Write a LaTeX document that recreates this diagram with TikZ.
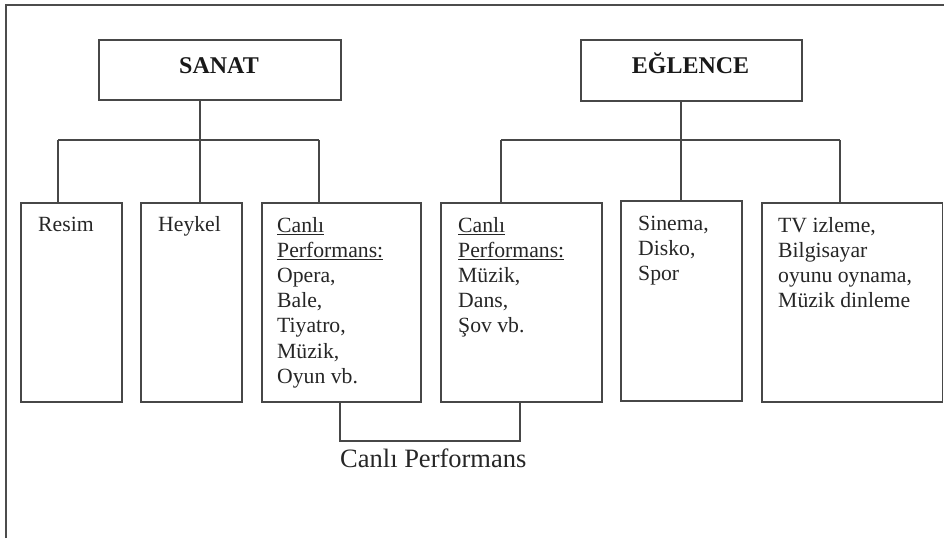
\documentclass[tikz,border=0pt]{standalone}
\usepackage{fontspec}
\setmainfont{Liberation Serif}
\newcommand\undl[1]{\leavevmode\setbox0\hbox{#1}\rlap{\rule[-2.6pt]{\wd0}{1pt}}\box0}
\begin{document}
\begin{tikzpicture}[x=1pt,y=-1pt,
  box/.style={draw=black!72,line width=1.6pt,rectangle,inner sep=0pt,anchor=north west},
  conn/.style={draw=black!72,line width=1.4pt},
  frame/.style={draw=black!70,line width=1.5pt},
  txt/.style={inner sep=0pt,anchor=base west,text=black!85,font=\fontsize{21.7}{25.2}\selectfont},
  ttl/.style={inner sep=0pt,anchor=base,text=black!90,font=\fontsize{24}{28}\selectfont\bfseries},
  lbl/.style={inner sep=0pt,anchor=base west,text=black!85,font=\fontsize{26.5}{30}\selectfont}]
\useasboundingbox (0,0) rectangle (944,538);
\draw[frame] (6,538) -- (6,5) -- (944,5);

% top boxes
\node[box,minimum width=242pt,minimum height=60pt] (sanat) at (98,39) {};
\node[ttl] (sanatT) at (219,73) {SANAT};
\node[box,minimum width=221pt,minimum height=61pt] (eglence) at (580,39) {};
\node[ttl] (eglenceT) at (690.5,73) {EĞLENCE};

% lower boxes
\node[box,minimum width=101pt,minimum height=199pt] (resim) at (20,202) {};
\node[box,minimum width=101pt,minimum height=199pt] (heykel) at (140,202) {};
\node[box,minimum width=159pt,minimum height=199pt] (canli1) at (261,202) {};
\node[box,minimum width=161pt,minimum height=199pt] (canli2) at (440,202) {};
\node[box,minimum width=121pt,minimum height=200pt] (sinema) at (620,200) {};
\node[box,minimum width=180.5pt,minimum height=199pt] (tv) at (761,202) {};

% texts
\node[txt] (resimT) at (38,231) {Resim};
\node[txt] (heykelT) at (158,231) {Heykel};
\node[txt] (canli1T) at (277,232) {\parbox[t]{140pt}{\raggedright
  \undl{Canlı}\\\undl{Performans:}\\Opera,\\Bale,\\Tiyatro,\\Müzik,\\Oyun vb.}};
\node[txt] (canli2T) at (458,232) {\parbox[t]{140pt}{\raggedright
  \undl{Canlı}\\\undl{Performans:}\\Müzik,\\Dans,\\Şov vb.}};
\node[txt] (sinemaT) at (638,230) {\parbox[t]{100pt}{\raggedright
  Sinema,\\Disko,\\Spor}};
\node[txt] (tvT) at (778,232) {\parbox[t]{160pt}{\raggedright
  TV izleme,\\Bilgisayar\\oyunu oynama,\\Müzik dinleme}};

% SANAT connectors
\coordinate (sj) at (200,140);
\coordinate (sl) at (58,140);
\coordinate (sr) at (319,140);
\draw[conn] (sanat.south -| sj) -- (sj);
\draw[conn] (sl) -- (sr);
\draw[conn] (sl) -- (sl |- resim.north);
\draw[conn] (sj) -- (sj |- heykel.north);
\draw[conn] (sr) -- (sr |- canli1.north);

% EGLENCE connectors
\coordinate (ej) at (681,140);
\coordinate (el) at (501,140);
\coordinate (er) at (840,140);
\draw[conn] (eglence.south -| ej) -- (ej);
\draw[conn] (el) -- (er);
\draw[conn] (el) -- (el |- canli2.north);
\draw[conn] (ej) -- (ej |- sinema.north);
\draw[conn] (er) -- (er |- tv.north);

% bottom bracket
\coordinate (bl) at (340,441);
\coordinate (br) at (520,441);
\draw[conn] (bl |- canli1.south) -- (bl) -- (br) -- (br |- canli2.south);
\node[lbl] (cp) at (340,467) {Canlı Performans};
\end{tikzpicture}
\end{document}
